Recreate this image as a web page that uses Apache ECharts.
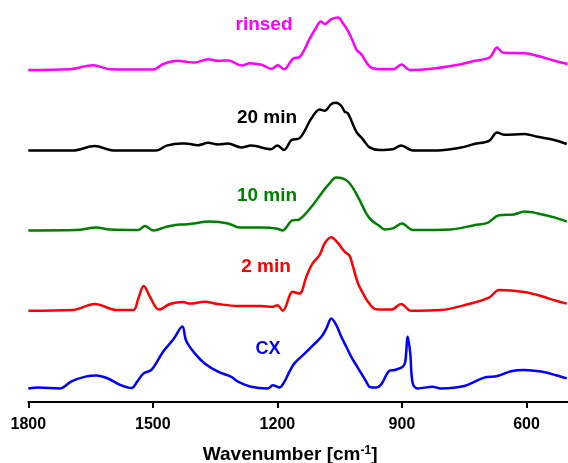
<!DOCTYPE html>
<html><head><meta charset="utf-8">
<script src="https://cdn.jsdelivr.net/npm/echarts@6/dist/echarts.min.js"></script>
<style>html,body{margin:0;padding:0;background:#fff}#c{width:568px;height:463px}</style>
</head><body><div id="c"></div>
<script>
// x-axis tick values (wavenumber, cm-1)
const xTicks = [1800, 1500, 1200, 900, 600];
const seriesNames = ['CX', '2 min', '10 min', '20 min', 'rinsed'];
const seriesColors = ['#0000ff', '#ff0000', '#008000', '#000000', '#ff00ff'];
// vertical stacking offsets of each spectrum (arb. units)
const offsets = [3.4, 22.8, 42.9, 62.9, 83];

// spectra: [wavenumber, relative intensity]
const CX = [[1800,0],[1776,0.25],[1724,0],[1696,1.75],[1660,3],[1636,3.25],[1611,2.6],[1579,0.9],[1551,0.1],[1539,1.5],[1523,3.7],[1503,4.7],[1475,9.25],[1451,12.2],[1429,15.5],[1420,12],[1399,8.75],[1375,6.25],[1343,4.2],[1311,2.9],[1295,1.7],[1263,0.4],[1223,0],[1211,0.8],[1195,0.25],[1183,1.7],[1171,4.2],[1159,6.25],[1134,8.75],[1118,10.4],[1094,12.9],[1082,15],[1070,17.5],[1058,15.8],[1046,12.9],[1034,10.4],[1022,7.9],[1010,5.8],[998,3.75],[986,1.7],[978,0.4],[962,0.2],[950,1],[930,4.4],[918,4.6],[898,5.4],[892,6.7],[886,12.9],[880,8.75],[874,1.25],[862,0],[826,0.4],[806,0],[750,0.6],[702,2.7],[670,3.1],[637,4.3],[605,4.6],[565,4.2],[529,3.3],[503,2.5]];
const min2 = [[1800,0],[1692,0.2],[1640,1.7],[1587,0.2],[1547,0.2],[1535,3.1],[1522,6.2],[1507,3.5],[1485,0.3],[1459,1.7],[1427,2.2],[1411,1.8],[1375,2.25],[1343,1.7],[1295,1.2],[1239,1.2],[1211,1],[1200,1.4],[1187,0],[1163,4.75],[1147,4.3],[1130,8.6],[1115,11.9],[1098,14],[1086,16.9],[1070,18.4],[1054,16.9],[1038,14.8],[1026,13.75],[1018,11.1],[1006,6.9],[994,4.4],[982,2.3],[962,0.4],[926,0.3],[902,1.7],[878,0],[806,0.2],[750,1.4],[690,3.3],[666,5.2],[605,4.7],[565,3.7],[529,2.5],[503,1.8]];
const min10 = [[1800,0],[1684,0.1],[1636,0.75],[1604,0.2],[1535,0.1],[1519,1.1],[1499,0],[1467,0.9],[1435,1.5],[1423,1.5],[1363,2.2],[1319,1.75],[1291,0.7],[1239,0.7],[1203,0.5],[1187,0],[1166,2.4],[1147,2.75],[1118,5.9],[1094,9.25],[1078,11.3],[1058,13.2],[1030,12.2],[1006,8.4],[986,4.25],[974,2.6],[954,1.1],[942,0.25],[922,0.5],[900,1.7],[874,0.1],[782,0.25],[726,1.3],[694,1.9],[666,3.8],[630,4],[605,4.7],[573,4.25],[533,3.25],[503,2.2]];
const min20 = [[1800,0],[1692,0],[1640,1.1],[1596,0],[1491,0],[1467,1.2],[1431,1.75],[1423,1.75],[1391,1.3],[1367,1.9],[1343,1.5],[1319,1.7],[1287,0.75],[1263,1.2],[1215,0.3],[1200,1.25],[1184,0.1],[1166,2.6],[1147,3],[1118,8],[1098,10.25],[1086,9.9],[1070,11.6],[1058,11.9],[1046,11.1],[1038,9.7],[1030,9.25],[1010,4.7],[994,2.75],[978,0.75],[954,0.1],[922,0.3],[902,1.25],[874,0],[814,0],[758,0.7],[726,1.6],[690,2.4],[671,4.5],[654,3.9],[605,4.1],[573,3.4],[533,2.6],[503,1.6]];
const rinsed = [[1800,0],[1700,0.2],[1644,1.2],[1603,0.2],[1499,0.1],[1475,1.5],[1439,2.3],[1423,2.1],[1399,1.9],[1367,2.7],[1343,2.3],[1318,2.4],[1286,1.1],[1266,1.7],[1238,1.3],[1214,0.3],[1199,1.2],[1184,0.2],[1162,2.9],[1146,3.3],[1122,7.9],[1110,10],[1095,12.1],[1086,11.5],[1070,12.7],[1054,13.1],[1042,11.7],[1029,9.6],[1018,7.1],[1009,5],[997,3.8],[977,0.8],[953,0.2],[921,0.2],[901,1.4],[881,0],[829,0.3],[765,1.3],[724,2.3],[688,3.2],[671,5.6],[656,4.3],[604,4.2],[572,3.5],[532,2.3],[501,1.5]];
const spectra = [CX, min2, min10, min20, rinsed];

const FONT = 'Arial, "Liberation Sans", sans-serif';
const labelPos = [[268, 349], [266, 267], [267, 196], [267, 118], [264, 25]];
const labelSizes = [18, 19, 19, 19, 19];

const chart = echarts.init(document.getElementById('c'), null, {renderer: 'canvas'});
chart.setOption({
  animation: false,
  backgroundColor: '#fff',
  grid: {left: 28.3, right: 0, top: 2, bottom: 61, containLabel: false, outerBoundsMode: 'none'},
  xAxis: {
    type: 'value', min: 500, max: 1800, inverse: true,
    axisLine: {show: true, lineStyle: {color: '#000', width: 2}},
    axisTick: {show: true, length: 6, lineStyle: {color: '#000', width: 2}, customValues: xTicks},
    axisLabel: {customValues: xTicks, formatter: v => String(v), fontSize: 16, fontWeight: 'bold', color: '#000', fontFamily: FONT, margin: 15},
    splitLine: {show: false},
    name: 'Wavenumber [cm{sup|-1}]',
    nameLocation: 'middle', nameGap: 43,
    nameTextStyle: {
      fontSize: 19, fontWeight: 'bold', color: '#000', fontFamily: FONT, padding: [0, 16, 0, 0],
      rich: {sup: {fontSize: 12, fontWeight: 'bold', color: '#000', fontFamily: FONT, verticalAlign: 'top', lineHeight: 14}}
    }
  },
  yAxis: {type: 'value', min: 0, max: 100, show: false},
  series: spectra.map((s, i) => ({
    type: 'line', name: seriesNames[i], showSymbol: false, smooth: 0.35,
    lineStyle: {color: seriesColors[i], width: 2.5}, itemStyle: {color: seriesColors[i]},
    data: s.map(p => [p[0], p[1] + offsets[i]])
  })),
  graphic: seriesNames.map((n, i) => ({
    type: 'text', x: labelPos[i][0], y: labelPos[i][1],
    style: {text: n, fill: seriesColors[i], font: 'bold ' + labelSizes[i] + 'px ' + FONT, textAlign: 'center', textVerticalAlign: 'middle'}
  }))
});
</script></body></html>
